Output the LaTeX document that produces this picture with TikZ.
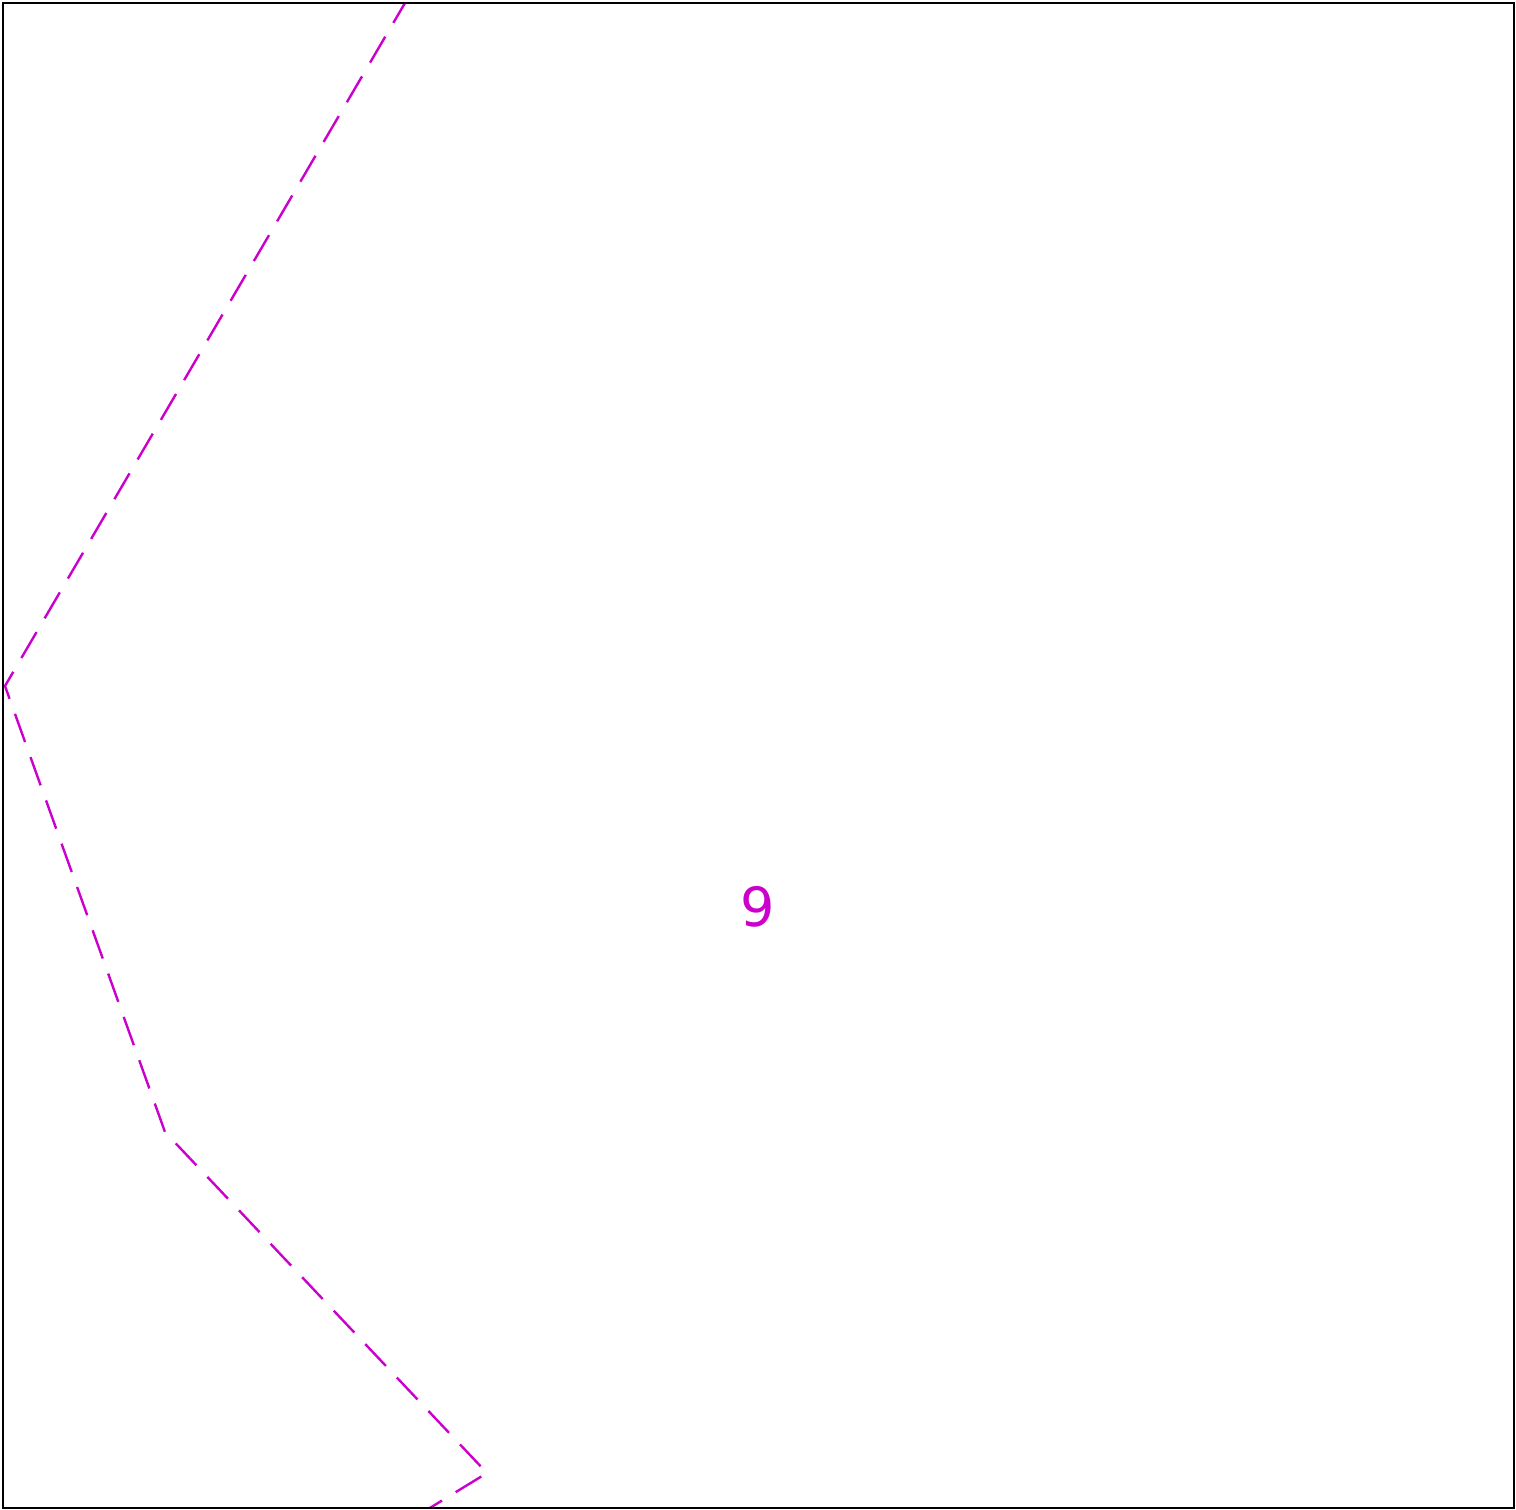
\documentclass[tikz,border=0pt]{standalone}
\usepackage{fontspec}
\setmainfont{DejaVu Sans}
\definecolor{mag}{RGB}{204,0,204}
\begin{document}
\begin{tikzpicture}[x=1pt,y=-1pt,
  boundary/.style={mag, line width=2.4pt, dash pattern=on 30pt off 16pt},
  frame/.style={black, line width=1.8pt},
  lbl/.style={mag, font=\fontsize{54}{60}\selectfont, inner sep=0pt}]
\useasboundingbox (0,0) rectangle (1516,1510);
\begin{scope}
\clip (3,3) rectangle (1514,1508);
\coordinate (p1) at (408.5,-3);
\coordinate (p2) at (5,686);
\coordinate (p3) at (165,1132);
\coordinate (p4) at (487,1473);
\coordinate (p5) at (420,1514);
\draw[boundary] (p1) -- (p2) -- (p3) -- (p4) -- (p5);
\end{scope}
\draw[frame] (3,3) rectangle (1514,1508);
\node[lbl] (n9) at (758,907) {9};
\end{tikzpicture}
\end{document}
